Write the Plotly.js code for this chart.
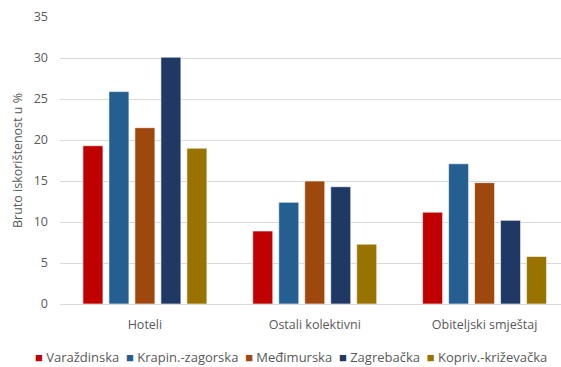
<!DOCTYPE html>
<html>
<head>
<meta charset="utf-8">
<script src="https://cdn.plot.ly/plotly-3.0.1.min.js"></script>
<style>
  html, body { margin: 0; padding: 0; background: #fff; }
  #chart { width: 561px; height: 367px; }
</style>
</head>
<body>
<div id="chart"></div>
<script>
// Accommodation types (x categories)
const categories = ['Hoteli', 'Ostali kolektivni', 'Obiteljski smještaj'];

// Counties (series)
const seriesNames = ['Varaždinska', 'Krapin.-zagorska', 'Međimurska', 'Zagrebačka', 'Kopriv.-križevačka'];
const seriesColors = ['#C00000', '#255E91', '#9E480E', '#203864', '#997300'];

// Gross occupancy in % per county, one value per category
const varazdinska = [19.3, 8.9, 11.2];
const krapinZagorska = [25.9, 12.4, 17.1];
const medimurska = [21.5, 15.0, 14.8];
const zagrebacka = [30.1, 14.3, 10.2];
const koprivKrizevacka = [19.0, 7.3, 5.8];

const seriesValues = [varazdinska, krapinZagorska, medimurska, zagrebacka, koprivKrizevacka];

const yTicks = [0, 5, 10, 15, 20, 25, 30, 35];

const traces = seriesNames.map((name, i) => ({
  type: 'bar',
  name: name,
  x: categories,
  y: seriesValues[i],
  marker: { color: seriesColors[i], line: { color: 'rgba(255,255,255,0.6)', width: 1 } },
  showlegend: false,
  hoverinfo: 'x+y+name'
}));

// Single-line legend with small coloured squares
const legendText = seriesNames
  .map((n, i) => `<span style="color:${seriesColors[i]}">■</span> ${n}`)
  .join('  ');

const layout = {
  width: 561,
  height: 367,
  margin: { l: 60, r: 0, t: 17, b: 63 },
  paper_bgcolor: '#ffffff',
  plot_bgcolor: '#ffffff',
  font: { family: '"Open Sans", Lato, sans-serif', size: 12.5, color: '#595959' },
  barmode: 'group',
  bargap: 0.235,
  bargroupgap: 0.23,
  xaxis: {
    type: 'category',
    range: [-0.5, 2.45],
    showgrid: false,
    showline: true,
    linecolor: '#d9d9d9',
    linewidth: 1,
    ticks: '',
    ticklabelstandoff: 9,
    tickfont: { size: 12.5, color: '#595959' },
    fixedrange: true
  },
  yaxis: {
    range: [0, 35],
    tickvals: yTicks,
    showgrid: true,
    gridcolor: '#d9d9d9',
    gridwidth: 1,
    zeroline: false,
    showline: false,
    ticks: '',
    ticklabelstandoff: 11,
    tickfont: { size: 12.5, color: '#595959' },
    title: { text: 'Bruto iskorištenost u %', font: { size: 12.5, color: '#595959' }, standoff: 8 },
    fixedrange: true
  },
  annotations: [{
    xref: 'paper', yref: 'paper',
    x: 0.461, y: -0.185,
    xanchor: 'center', yanchor: 'middle',
    showarrow: false,
    text: legendText,
    font: { size: 13, color: '#595959' }
  }]
};

Plotly.newPlot('chart', traces, layout, { displayModeBar: false, staticPlot: true });
</script>
</body>
</html>
